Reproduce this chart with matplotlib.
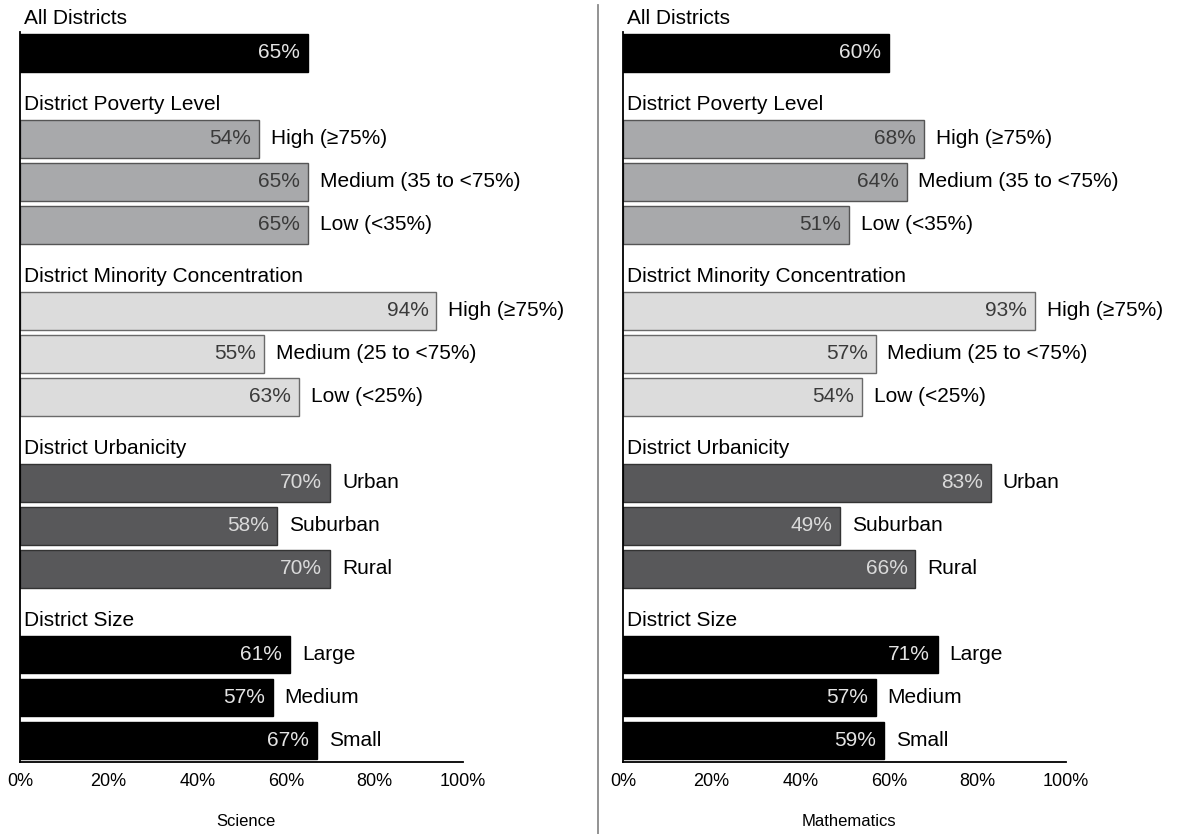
import matplotlib
matplotlib.use("Agg")
import matplotlib.pyplot as plt

plt.rcParams['font.family'] = ['Liberation Sans', 'DejaVu Sans']

# Group headers and category labels
groups = ["All Districts", "District Poverty Level", "District Minority Concentration",
          "District Urbanicity", "District Size"]
categories = [
    [""],
    ["High (\u226575%)", "Medium (35 to <75%)", "Low (<35%)"],
    ["High (\u226575%)", "Medium (25 to <75%)", "Low (<25%)"],
    ["Urban", "Suburban", "Rural"],
    ["Large", "Medium", "Small"],
]

# Percent of districts, per subject
science = [[65], [54, 65, 65], [94, 55, 63], [70, 58, 70], [61, 57, 67]]
mathematics = [[60], [68, 64, 51], [93, 57, 54], [83, 49, 66], [71, 57, 59]]

subjects = ["Science", "Mathematics"]
xticks = [0, 20, 40, 60, 80, 100]
xticklabels = ["0%", "20%", "40%", "60%", "80%", "100%"]

# Styling per group: fill, edge, value-label colour
fills = ["#000000", "#a8a9ab", "#dcdcdc", "#58585a", "#000000"]
edges = ["#000000", "#555555", "#6a6a6a", "#333333", "#000000"]
value_colors = ["#e4e4e4", "#3a3a3a", "#3a3a3a", "#dadada", "#e4e4e4"]

W, H = 1180, 834
fig = plt.figure(figsize=(W / 100, H / 100), dpi=100)

panel_left = [20, 623]
ax_w = 443
y_top, y_bot = 31.5, 762

FS = 15


def draw_panel(ax, data):
    slot = 0
    for g, (name, cats, vals) in enumerate(zip(groups, categories, data)):
        # header sits in its own slot just above the bars
        ax.text(0.9, slot + 0.2, name, ha="left", va="center", fontsize=FS,
                color="black", clip_on=False)
        slot += 1
        for cat, v in zip(cats, vals):
            ax.barh(slot, v, height=0.88, color=fills[g], edgecolor=edges[g],
                    linewidth=1.0)
            ax.text(v - 1.8, slot, f"{v}%", ha="right", va="center",
                    fontsize=FS, color=value_colors[g])
            if cat:
                ax.text(v + 2.7, slot, cat, ha="left", va="center",
                        fontsize=FS, color="black", clip_on=False)
            slot += 1
    ax.set_xlim(0, 100)
    ax.set_ylim(slot - 0.5, 0.5)
    ax.set_yticks([])
    ax.set_xticks(xticks)
    ax.set_xticklabels(xticklabels, fontsize=13)
    ax.tick_params(axis="x", length=0, pad=8)
    for s in ("top", "right"):
        ax.spines[s].set_visible(False)
    ax.spines["left"].set_linewidth(1.3)
    ax.spines["bottom"].set_linewidth(1.3)


for left, data, title in zip(panel_left, [science, mathematics], subjects):
    ax = fig.add_axes([left / W, 1 - y_bot / H, ax_w / W, (y_bot - y_top) / H])
    draw_panel(ax, data)
    fig.text((left + ax_w / 2 + 4) / W, 1 - 822 / H, title, ha="center",
             va="center", fontsize=12)

# vertical divider between the two panels
fig.add_artist(plt.Line2D([598 / W, 598 / W], [0, 1 - 5 / H], color="#8a8a8a",
                          linewidth=1.3, transform=fig.transFigure))

fig.savefig("out.png", dpi=100)
